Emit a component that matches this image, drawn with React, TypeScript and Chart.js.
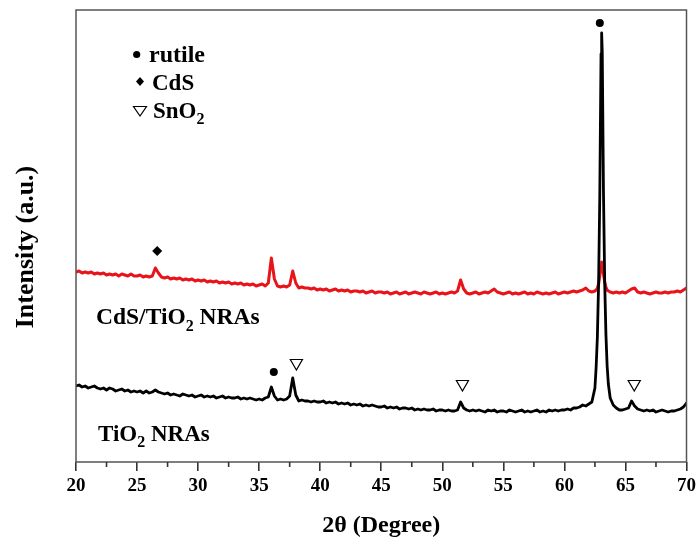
import React, { useEffect, useRef } from 'react';
import { Chart, registerables } from 'chart.js';

Chart.register(...registerables);

const FONT = "'Times New Roman', 'Liberation Serif', serif";
const RED = '#e8141a';
const FRAME = '#555555';

// 2θ positions (degrees)
const twoTheta = [
  20, 20.25, 20.5, 20.75,
  21, 21.25, 21.5, 21.75,
  22, 22.25, 22.5, 22.75,
  23, 23.25, 23.5, 23.75,
  24, 24.25, 24.5, 24.75,
  25, 25.25, 25.5, 25.75,
  26, 26.25, 26.5, 26.75,
  27, 27.25, 27.5, 27.75,
  28, 28.25, 28.5, 28.75,
  29, 29.25, 29.5, 29.75,
  30, 30.25, 30.5, 30.75,
  31, 31.25, 31.5, 31.75,
  32, 32.25, 32.5, 32.75,
  33, 33.25, 33.5, 33.75,
  34, 34.25, 34.5, 34.75,
  35, 35.25, 35.5, 35.75,
  36, 36.25, 36.5, 36.75,
  37, 37.25, 37.5, 37.75,
  38, 38.25, 38.5, 38.75,
  39, 39.25, 39.5, 39.75,
  40, 40.25, 40.5, 40.75,
  41, 41.25, 41.5, 41.75,
  42, 42.25, 42.5, 42.75,
  43, 43.25, 43.5, 43.75,
  44, 44.25, 44.5, 44.75,
  45, 45.25, 45.5, 45.75,
  46, 46.25, 46.5, 46.75,
  47, 47.25, 47.5, 47.75,
  48, 48.25, 48.5, 48.75,
  49, 49.25, 49.5, 49.75,
  50, 50.25, 50.5, 50.75,
  51, 51.25, 51.5, 51.75,
  52, 52.25, 52.5, 52.75,
  53, 53.25, 53.5, 53.75,
  54, 54.25, 54.5, 54.75,
  55, 55.25, 55.5, 55.75,
  56, 56.25, 56.5, 56.75,
  57, 57.25, 57.5, 57.75,
  58, 58.25, 58.5, 58.75,
  59, 59.25, 59.5, 59.75,
  60, 60.25, 60.5, 60.75,
  61, 61.25, 61.5, 61.75,
  62, 62.25, 62.5, 62.6, 62.7, 62.8, 62.9, 63, 63.05, 63.1, 63.2, 63.3, 63.4, 63.5, 63.6, 63.75,
  64, 64.25, 64.5, 64.75,
  65, 65.25, 65.5, 65.75,
  66, 66.25, 66.5, 66.75,
  67, 67.25, 67.5, 67.75,
  68, 68.25, 68.5, 68.75,
  69, 69.25, 69.5, 69.75,
  70,
];

// TiO2 NRAs intensity (a.u.)
const tio2 = [
  76, 77, 75, 76,
  74, 75, 76, 74,
  73, 74, 72, 74,
  73, 71, 72, 73,
  71, 72, 70, 71,
  70, 71, 69, 71,
  69, 70, 72, 70,
  69, 68, 69, 67,
  68, 67, 66, 68,
  67, 66, 67, 65,
  66, 67, 65, 66,
  65, 66, 64, 65,
  66, 64, 65, 64,
  64, 65, 63, 64,
  63, 64, 63, 62,
  63, 62, 64, 65,
  75, 66, 62, 63,
  62, 63, 66, 84,
  67, 61, 62, 61,
  61, 60, 61, 60,
  60, 61, 59, 60,
  59, 60, 58, 59,
  58, 59, 57, 58,
  57, 58, 56, 57,
  56, 57, 56, 55,
  55, 56, 54, 55,
  54, 55, 53, 54,
  54, 53, 54, 52,
  53, 52, 53, 52,
  52, 53, 51, 52,
  52, 51, 52, 51,
  51, 52, 60, 54,
  52, 51, 52, 51,
  52, 51, 50, 52,
  51, 52, 50, 51,
  51, 50, 52, 51,
  50, 51, 52, 50,
  51, 50, 51, 52,
  50, 51, 50, 52,
  51, 52, 51, 52,
  52, 53, 52, 54,
  54, 55, 57, 56,
  58, 60, 74, 95, 125, 178, 268, 408, 429, 410, 270, 180, 128, 96, 78, 64,
  57, 54, 52, 52,
  53, 54, 61, 56,
  53, 52, 51, 52,
  51, 52, 50, 51,
  52, 51, 50, 51,
  51, 52, 53, 55,
  59,
];

// CdS/TiO2 NRAs intensity (a.u.)
const cdsTio2 = [
  190, 191, 189, 190,
  189, 190, 188, 189,
  188, 189, 187, 188,
  187, 188, 186, 188,
  187, 186, 188, 186,
  186, 187, 185, 186,
  185, 186, 194, 189,
  185, 184, 185, 183,
  184, 183, 184, 182,
  183, 182, 183, 181,
  182, 181, 182, 180,
  181, 180, 181, 179,
  180, 179, 180, 178,
  179, 178, 179, 177,
  178, 177, 178, 176,
  177, 178, 176, 179,
  204, 183, 176, 175,
  176, 175, 177, 191,
  179, 174, 175, 174,
  174, 173, 174, 172,
  173, 172, 173, 171,
  172, 173, 171, 172,
  171, 172, 170, 171,
  171, 170, 171, 169,
  170, 171, 169, 170,
  170, 169, 170, 168,
  169, 170, 168, 169,
  170, 168, 169, 170,
  169, 168, 170, 169,
  168, 169, 170, 168,
  169, 168, 169, 170,
  169, 171, 182, 173,
  169, 168, 169, 170,
  168, 169, 170, 169,
  171, 173, 170, 169,
  168, 169, 170, 168,
  169, 168, 169, 170,
  168, 169, 168, 170,
  169, 168, 169, 168,
  169, 170, 168, 169,
  170, 169, 170, 171,
  170, 171, 172, 174,
  171, 170, 171, 172, 174, 178, 186, 196, 200, 197, 188, 180, 175, 172, 171, 170,
  169, 170, 169, 170,
  169, 171, 173, 174,
  170, 169, 170, 169,
  168, 169, 170, 169,
  169, 170, 169, 170,
  170, 171, 170, 172,
  174,
];

// phase markers
const rutileX = [36.2, 62.9];
const rutileY = [90, 439];
const cdsX = [26.65];
const cdsY = [211];
const sno2X = [38.05, 51.65, 65.72];
const sno2Y = [99, 78, 78];

const xMin = 20;
const xMax = 70;
const yMin = 0;
const yMax = 452;
const minorTicks = [22.5, 27.5, 32.5, 37.5, 42.5, 47.5, 52.5, 57.5, 62.5, 67.5];

function drawParts(ctx: CanvasRenderingContext2D, parts: { t: string; sub?: boolean }[], x: number, y: number, size: number) {
  let cx = x;
  for (const p of parts) {
    if (p.sub) {
      ctx.font = `bold ${Math.round(size * 0.68)}px ${FONT}`;
      ctx.fillText(p.t, cx, y + size * 0.28);
    } else {
      ctx.font = `bold ${size}px ${FONT}`;
      ctx.fillText(p.t, cx, y);
    }
    cx += ctx.measureText(p.t).width;
  }
}

const overlay = {
  id: 'overlay',
  afterDraw(chart: any) {
    const { ctx, chartArea: a, scales } = chart;
    const xs = scales.x;
    ctx.save();
    // frame
    ctx.strokeStyle = FRAME;
    ctx.lineWidth = 1.5;
    ctx.strokeRect(a.left, a.top, a.right - a.left, a.bottom - a.top);
    // minor ticks
    ctx.strokeStyle = '#333';
    ctx.lineWidth = 1.6;
    ctx.beginPath();
    for (const v of minorTicks) {
      const px = xs.getPixelForValue(v);
      ctx.moveTo(px, a.bottom);
      ctx.lineTo(px, a.bottom + 5);
    }
    ctx.stroke();

    ctx.fillStyle = '#000';
    ctx.strokeStyle = '#000';
    ctx.textAlign = 'left';
    ctx.textBaseline = 'alphabetic';

    // legend symbols
    ctx.beginPath();
    ctx.arc(136.7, 54.5, 3.6, 0, Math.PI * 2);
    ctx.fill();
    ctx.beginPath();
    ctx.moveTo(140, 77);
    ctx.lineTo(144, 81.5);
    ctx.lineTo(140, 86);
    ctx.lineTo(136, 81.5);
    ctx.closePath();
    ctx.fill();
    ctx.lineWidth = 1.2;
    ctx.beginPath();
    ctx.moveTo(133.5, 106.5);
    ctx.lineTo(146.5, 106.5);
    ctx.lineTo(140, 116);
    ctx.closePath();
    ctx.stroke();

    // legend text
    drawParts(ctx, [{ t: 'rutile' }], 149, 62, 24);
    drawParts(ctx, [{ t: 'CdS' }], 152, 90, 23);
    drawParts(ctx, [{ t: 'SnO' }, { t: '2', sub: true }], 153, 118, 23);

    // sample labels
    drawParts(ctx, [{ t: 'CdS/TiO' }, { t: '2', sub: true }, { t: ' NRAs' }], 96, 324, 23.5);
    drawParts(ctx, [{ t: 'TiO' }, { t: '2', sub: true }, { t: ' NRAs' }], 98, 441, 23);

    // y title
    ctx.save();
    ctx.translate(26, 247);
    ctx.rotate(-Math.PI / 2);
    ctx.textAlign = 'center';
    ctx.textBaseline = 'middle';
    ctx.font = `bold 26px ${FONT}`;
    ctx.fillText('Intensity (a.u.)', 0, 0);
    ctx.restore();

    ctx.restore();
  },
};

export default function App() {
  const ref = useRef<HTMLCanvasElement | null>(null);
  useEffect(() => {
    if (!ref.current) return;
    const toPts = (xs: number[], ys: number[]) => xs.map((x, i) => ({ x, y: ys[i] }));
    const chart = new Chart(ref.current, {
      type: 'line',
      data: {
        datasets: [
          {
            type: 'scatter',
            label: 'rutile',
            data: toPts(rutileX, rutileY),
            pointStyle: 'circle',
            pointRadius: 4,
            backgroundColor: '#000',
            borderColor: '#000',
            borderWidth: 0,
          },
          {
            type: 'scatter',
            label: 'CdS',
            data: toPts(cdsX, cdsY),
            pointStyle: 'rectRot',
            pointRadius: 5,
            backgroundColor: '#000',
            borderColor: '#000',
            borderWidth: 0,
          },
          {
            type: 'scatter',
            label: 'SnO2',
            data: toPts(sno2X, sno2Y),
            pointStyle: 'triangle',
            pointRotation: 180,
            pointRadius: 7,
            backgroundColor: '#fff',
            borderColor: '#000',
            borderWidth: 1.2,
          },
          {
            type: 'line',
            label: 'TiO2 NRAs',
            data: toPts(twoTheta, tio2),
            borderColor: '#000',
            borderWidth: 2.8,
            borderJoinStyle: 'round',
            borderCapStyle: 'round',
            pointRadius: 0,
            tension: 0,
            fill: false,
          },
          {
            type: 'line',
            label: 'CdS/TiO2 NRAs',
            data: toPts(twoTheta, cdsTio2),
            borderColor: RED,
            borderWidth: 3,
            borderJoinStyle: 'round',
            borderCapStyle: 'round',
            pointRadius: 0,
            tension: 0,
            fill: false,
          },
        ],
      } as any,
      options: {
        responsive: false,
        animation: false,
        layout: { padding: { left: 0, top: 10, right: 10, bottom: 0 } },
        plugins: { legend: { display: false }, tooltip: { enabled: false } },
        scales: {
          x: {
            type: 'linear',
            min: xMin,
            max: xMax,
            ticks: {
              stepSize: 5,
              font: { family: FONT, size: 19, weight: 'bold' },
              color: '#000',
              padding: 4,
              maxRotation: 0,
              autoSkip: false,
            },
            grid: {
              display: true,
              drawOnChartArea: false,
              drawTicks: true,
              tickLength: 9,
              color: '#333',
              lineWidth: 1.6,
            },
            border: { display: false },
            title: {
              display: true,
              text: '2θ (Degree)',
              font: { family: FONT, size: 24, weight: 'bold' },
              color: '#000',
              padding: { top: 4, bottom: 3 },
            },
            afterFit: (s: any) => {
              s.height = 81;
            },
          },
          y: {
            min: yMin,
            max: yMax,
            ticks: { display: false },
            grid: { display: false, drawTicks: false },
            border: { display: false },
            afterFit: (s: any) => {
              s.width = 76;
            },
          },
        },
      } as any,
      plugins: [overlay],
    });
    return () => chart.destroy();
  }, []);
  return (
    <div style={{ position: 'fixed', left: 0, top: 0, width: 700, height: 543, background: '#fff' }}>
      <canvas ref={ref} width={700} height={543} style={{ display: 'block' }} />
    </div>
  );
}
